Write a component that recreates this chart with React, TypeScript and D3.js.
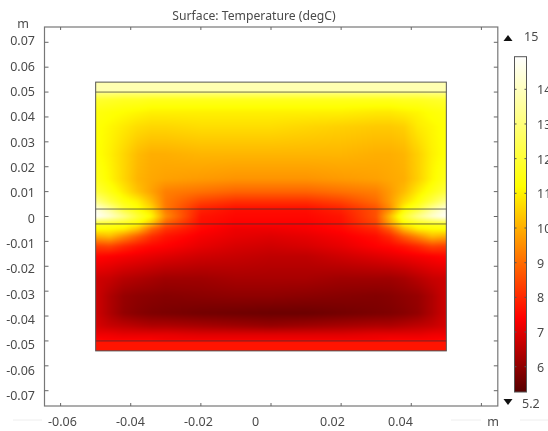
import React, { useMemo } from "react";
import * as d3 from "d3";

const W = 548, H = 431;
const FONT = "'Noto Sans', 'Open Sans', sans-serif";
const TXT = "#4a4a4a";

const title = "Surface: Temperature (degC)";
const xTicks = [-0.06, -0.04, -0.02, 0, 0.02, 0.04, 0.06];
const xLabels = [-0.06, -0.04, -0.02, 0, 0.02, 0.04];
const yTicks = [0.07, 0.06, 0.05, 0.04, 0.03, 0.02, 0.01, 0, -0.01, -0.02, -0.03, -0.04, -0.05, -0.06, -0.07];
const barTicks = [6, 7, 8, 9, 10, 11, 12, 13, 14];
const layerLines = [0.05, 0.003, -0.003, -0.05];
const domainX = [-0.05, 0.05];
const domainY = [-0.054, 0.054];

const colorT = [5.27, 7.4, 11.2, 14.94];
const colorC = ["#560000", "#ff0000", "#ffff00", "#ffffff"];

const gridX = [-0.05, -0.046, -0.042, -0.038, -0.034, -0.03, -0.02, -0.01, 0, 0.01, 0.02, 0.03, 0.034, 0.038, 0.042, 0.046, 0.05];
const gridY = [0.054, 0.0501, 0.0499, 0.047, 0.042, 0.036, 0.025, 0.015, 0.01, 0.006, 0.003, 0, -0.003, -0.005, -0.008, -0.012, -0.016, -0.025, -0.032, -0.039, -0.044, -0.0475, -0.0499, -0.0501, -0.054];
const tempGrid = [
  [13.8, 13.8, 13.8, 13.8, 13.8, 13.8, 13.8, 13.8, 13.8, 13.8, 13.8, 13.8, 13.8, 13.8, 13.8, 13.8, 13.8],
  [13.8, 13.8, 13.8, 13.8, 13.8, 13.8, 13.8, 13.8, 13.8, 13.8, 13.8, 13.8, 13.8, 13.8, 13.8, 13.8, 13.8],
  [13.1, 13.1, 13.0, 13.0, 13.0, 13.0, 13.0, 13.0, 13.0, 13.0, 13.0, 13.0, 13.0, 13.0, 13.0, 13.1, 13.1],
  [11.9, 11.8, 11.7, 11.7, 11.6, 11.6, 11.6, 11.6, 11.6, 11.6, 11.6, 11.6, 11.6, 11.7, 11.7, 11.8, 11.9],
  [11.4, 11.3, 11.2, 11.1, 11.0, 11.0, 11.0, 11.0, 11.0, 11.0, 11.0, 10.9, 10.9, 11.0, 11.1, 11.3, 11.4],
  [11.3, 11.1, 10.9, 10.7, 10.6, 10.6, 10.7, 10.7, 10.7, 10.6, 10.5, 10.4, 10.4, 10.5, 10.9, 11.1, 11.3],
  [11.3, 11.0, 10.6, 10.2, 10.0, 10.0, 10.1, 10.1, 10.1, 10.1, 10.1, 10.0, 10.0, 10.1, 10.5, 11.0, 11.3],
  [11.6, 11.1, 10.6, 10.1, 9.9, 9.8, 9.7, 9.6, 9.6, 9.6, 9.7, 9.8, 9.9, 10.0, 10.5, 11.1, 11.6],
  [12.1, 11.5, 10.9, 10.3, 9.8, 9.3, 9.1, 8.9, 8.9, 8.9, 9.1, 9.3, 9.7, 10.2, 10.9, 11.5, 12.1],
  [13.2, 12.2, 11.4, 11.0, 10.2, 9.2, 8.4, 8.1, 8.1, 8.1, 8.4, 9.0, 9.7, 10.6, 11.3, 12.2, 13.2],
  [14.5, 13.4, 12.0, 11.3, 10.6, 9.2, 7.9, 7.6, 7.6, 7.6, 7.9, 8.6, 9.5, 11.1, 12.0, 13.4, 14.5],
  [14.9, 14.2, 13.2, 12.0, 11.1, 9.5, 7.7, 7.5, 7.5, 7.5, 7.7, 8.6, 10.2, 11.9, 13.2, 14.2, 14.9],
  [11.8, 11.7, 11.5, 11.2, 10.2, 8.8, 7.6, 7.4, 7.4, 7.4, 7.6, 8.4, 9.8, 11.1, 11.5, 11.7, 11.8],
  [11.3, 11.2, 11.0, 10.3, 9.0, 8.2, 7.5, 7.2, 7.2, 7.3, 7.5, 8.0, 8.8, 10.2, 11.0, 11.2, 11.3],
  [10.0, 10.2, 9.5, 8.8, 8.1, 7.7, 7.3, 7.1, 7.0, 7.1, 7.3, 7.6, 8.0, 8.8, 9.5, 10.2, 10.0],
  [8.3, 8.4, 8.0, 7.7, 7.5, 7.4, 7.1, 6.9, 6.8, 6.9, 7.1, 7.4, 7.5, 7.7, 8.0, 8.4, 8.3],
  [7.5, 7.4, 7.3, 7.2, 7.1, 7.0, 6.8, 6.7, 6.6, 6.6, 6.8, 7.0, 7.1, 7.2, 7.3, 7.4, 7.5],
  [6.8, 6.7, 6.5, 6.4, 6.3, 6.2, 6.2, 6.3, 6.3, 6.3, 6.2, 6.2, 6.2, 6.3, 6.5, 6.7, 6.8],
  [6.8, 6.4, 6.1, 6.0, 5.95, 5.9, 5.95, 6.0, 6.0, 5.95, 5.9, 5.85, 5.9, 6.0, 6.1, 6.4, 6.8],
  [6.8, 6.4, 6.05, 5.9, 5.8, 5.75, 5.65, 5.6, 5.55, 5.55, 5.65, 5.75, 5.8, 5.9, 6.05, 6.4, 6.8],
  [6.9, 6.7, 6.6, 6.5, 6.4, 6.4, 6.3, 6.2, 6.1, 6.2, 6.3, 6.4, 6.4, 6.5, 6.6, 6.7, 6.9],
  [7.2, 7.2, 7.1, 7.1, 7.1, 7.1, 7.0, 7.0, 7.0, 7.0, 7.0, 7.1, 7.1, 7.1, 7.1, 7.2, 7.2],
  [7.5, 7.4, 7.4, 7.4, 7.4, 7.3, 7.3, 7.3, 7.3, 7.3, 7.3, 7.3, 7.4, 7.4, 7.4, 7.4, 7.5],
  [7.7, 7.7, 7.7, 7.7, 7.7, 7.7, 7.7, 7.7, 7.7, 7.7, 7.7, 7.7, 7.7, 7.7, 7.7, 7.7, 7.7],
  [7.7, 7.7, 7.7, 7.7, 7.7, 7.7, 7.7, 7.7, 7.7, 7.7, 7.7, 7.7, 7.7, 7.7, 7.7, 7.7, 7.7],
];

const x = d3.scaleLinear().domain([-0.06, 0.06]).range([60.6, 481.4]);
const y = d3.scaleLinear().domain([-0.07, 0.07]).range([390.7, 42.3]);
const xLabelPos = d3.scaleLinear().domain([-0.06, 0.04]).range([48, 388]);
const yLabelPos = d3.scaleLinear().domain([-0.07, 0.07]).range([395.7, 40.7]);
const barY = d3.scaleLinear().domain([6, 14]).range([366.7, 89.3]);
const color = d3.scaleLinear<string>().domain(colorT).range(colorC).clamp(true);

const frame = { l: 44.5, r: 497.8, t: 27, b: 406 };
const bar = { l: 514.5, r: 526.5, t: barY(colorT[3]), b: barY(colorT[0]) };
const PAD = 5;

function fieldImage(): { href: string; x: number; y: number; w: number; h: number } {
  const px0 = x(domainX[0]) - PAD, px1 = x(domainX[1]) + PAD, py0 = y(domainY[1]) - PAD, py1 = y(domainY[0]) + PAD;
  const w = Math.round(px1 - px0), h = Math.round(py1 - py0);
  const cv = document.createElement("canvas");
  cv.width = w; cv.height = h;
  const ctx = cv.getContext("2d")!;
  const img = ctx.createImageData(w, h);
  const columns = gridX.map((_, i) => d3.scaleLinear().domain(gridY).range(tempGrid.map((r) => r[i])).clamp(true));
  for (let j = 0; j < h; j++) {
    const dy = y.invert(py0 + j + 0.5);
    const rowT = d3.scaleLinear().domain(gridX).range(columns.map((c) => c(dy))).clamp(true);
    for (let i = 0; i < w; i++) {
      const c = d3.rgb(color(rowT(x.invert(px0 + i + 0.5))));
      const k = (j * w + i) * 4;
      img.data[k] = c.r; img.data[k + 1] = c.g; img.data[k + 2] = c.b; img.data[k + 3] = 255;
    }
  }
  ctx.putImageData(img, 0, 0);
  return { href: cv.toDataURL(), x: px0, y: py0, w: px1 - px0, h: py1 - py0 };
}

const fmt = (v: number) => (v === 0 ? "0" : String(+v.toFixed(2)));

export default function App() {
  const field = useMemo(fieldImage, []);
  const rectL = x(domainX[0]), rectR = x(domainX[1]), rectT = y(domainY[1]), rectB = y(domainY[0]);
  const txt = { fontFamily: FONT, fontSize: 12.5, fill: TXT };
  return (
    <svg width={W} height={H} style={{ position: "absolute", left: 0, top: 0, filter: "blur(0.4px)", background: "#fff" }}>
      <defs>
        <linearGradient id="cb" x1="0" y1="1" x2="0" y2="0">
          {colorT.map((t, i) => (
            <stop key={t} offset={(t - colorT[0]) / (colorT[3] - colorT[0])} stopColor={colorC[i]} />
          ))}
        </linearGradient>
        <clipPath id="rectClip">
          <rect x={rectL} y={rectT} width={rectR - rectL} height={rectB - rectT} />
        </clipPath>
      </defs>
      <rect width={W} height={H} fill="#fff" />
      <text x={254} y={19.5} textAnchor="middle" {...txt} fontSize={12.2}>{title}</text>

      <g clipPath="url(#rectClip)">
        <image href={field.href} x={field.x} y={field.y} width={field.w} height={field.h} preserveAspectRatio="none" style={{ filter: "blur(1.2px)" }} />
      </g>
      {layerLines.map((v) => (
        <line key={v} x1={rectL} x2={rectR} y1={y(v)} y2={y(v)} stroke="#333" strokeOpacity={0.7} strokeWidth={1} />
      ))}
      <rect x={rectL} y={rectT} width={rectR - rectL} height={rectB - rectT} fill="none" stroke="#555" strokeWidth={1} />

      <rect x={frame.l} y={frame.t} width={frame.r - frame.l} height={frame.b - frame.t} fill="none" stroke="#777" strokeWidth={1.2} />
      {xTicks.map((v) => (
        <g key={v}>
          <line x1={x(v)} x2={x(v)} y1={frame.t} y2={frame.t + 3} stroke="#666" />
          <line x1={x(v)} x2={x(v)} y1={frame.b} y2={frame.b - 3} stroke="#666" />
        </g>
      ))}
      {xLabels.map((v) => (
        <text key={v} x={xLabelPos(v)} y={425.5} {...txt}>{fmt(v)}</text>
      ))}
      {yTicks.map((v) => (
        <g key={v}>
          <line x1={frame.l} x2={frame.l + 4} y1={y(v)} y2={y(v)} stroke="#666" />
          <line x1={frame.r} x2={frame.r - 4} y1={y(v)} y2={y(v)} stroke="#666" />
          <text x={35} y={yLabelPos(v) + 4.5} textAnchor="end" {...txt}>{fmt(v)}</text>
        </g>
      ))}
      <text x={23} y={28} textAnchor="middle" {...txt}>m</text>
      <text x={493} y={426} textAnchor="middle" {...txt}>m</text>
      {[[13, 42], [451, 481], [520, 548]].map(([a, b]) => (
        <line key={a} x1={a} x2={b} y1={420} y2={420} stroke="#eeeeee" />
      ))}

      <rect x={bar.l} y={bar.t} width={bar.r - bar.l} height={bar.b - bar.t} fill="url(#cb)" stroke="#555" strokeWidth={1} />
      {barTicks.map((v) => (
        <g key={v}>
          <line x1={bar.l} x2={bar.l + 2} y1={barY(v)} y2={barY(v)} stroke="#555" />
          <line x1={bar.r} x2={bar.r - 2} y1={barY(v)} y2={barY(v)} stroke="#555" />
          <text x={537} y={barY(v) + 5} {...txt}>{v}</text>
        </g>
      ))}
      <path d="M503.5,41 L512.5,41 L508,35 Z" fill="#111" />
      <path d="M503.5,399 L512.5,399 L508,405 Z" fill="#111" />
      <text x={524} y={41} {...txt}>15</text>
      <text x={522} y={408} {...txt}>5.2</text>
    </svg>
  );
}
